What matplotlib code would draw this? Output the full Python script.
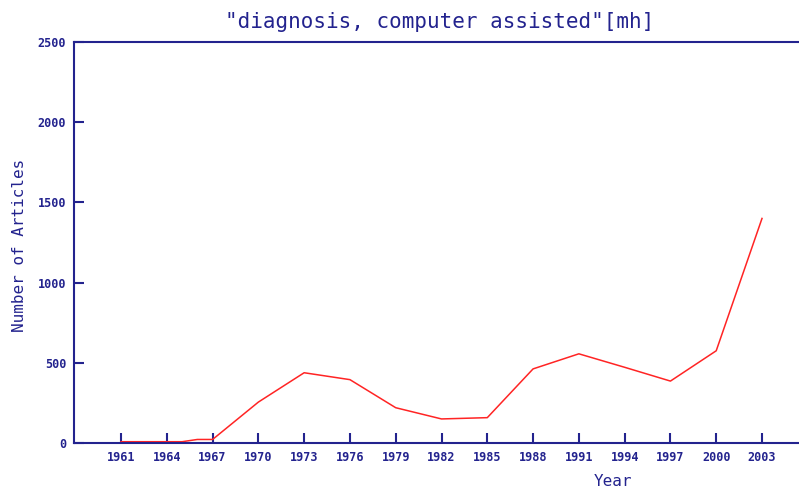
import matplotlib
matplotlib.use("Agg")
import matplotlib.pyplot as plt

# yearly article counts
years = [1961, 1964, 1965, 1966, 1967, 1970, 1973, 1976, 1979, 1982, 1985,
         1988, 1991, 1994, 1997, 2000, 2003]
articles = [8, 8, 8, 22, 22, 255, 438, 395, 220, 150, 158,
            462, 556, 472, 386, 575, 1400]
tick_years = list(range(1961, 2004, 3))
y_ticks = [0, 500, 1000, 1500, 2000, 2500]

navy = '#23238e'
mono = 'DejaVu Sans Mono'

fig = plt.figure(figsize=(7.99, 4.88), dpi=100)
# plot area runs off the right edge like the original
ax = fig.add_axes([74 / 799, 45 / 488, (812 - 74) / 799, (443 - 42) / 488])

ax.plot(years, articles, color='#ff2424', lw=1.1)

ax.set_xlim(1961 - 47 / 15.262, 1961 + (812 - 121) / 15.262)
ax.set_ylim(0, 2500)

ax.set_xticks(tick_years)
ax.set_xticklabels([str(y) for y in tick_years])
ax.set_yticks(y_ticks)
ax.set_yticklabels([str(v) for v in y_ticks])
ax.tick_params(direction='in', length=7, width=1.5, color=navy,
               labelcolor=navy, labelsize=8.5, pad=5.5)
for lab in ax.get_xticklabels() + ax.get_yticklabels():
    lab.set_fontfamily(mono)
    lab.set_fontweight('bold')

for side in ['left', 'top', 'bottom']:
    ax.spines[side].set_color(navy)
    ax.spines[side].set_linewidth(1.5)
ax.spines['right'].set_visible(False)

fig.text(440 / 799, 1 - 22 / 488, '"diagnosis, computer assisted"[mh]',
         ha='center', va='center', color=navy, family=mono, fontsize=15)
fig.text(20 / 799, 1 - 245 / 488, 'Number of Articles', rotation=90,
         ha='center', va='center', color=navy, family=mono, fontsize=11.5)
fig.text(613 / 799, 1 - 482 / 488, 'Year',
         ha='center', va='center', color=navy, family=mono, fontsize=11.5)

fig.savefig('out.png', dpi=100)
